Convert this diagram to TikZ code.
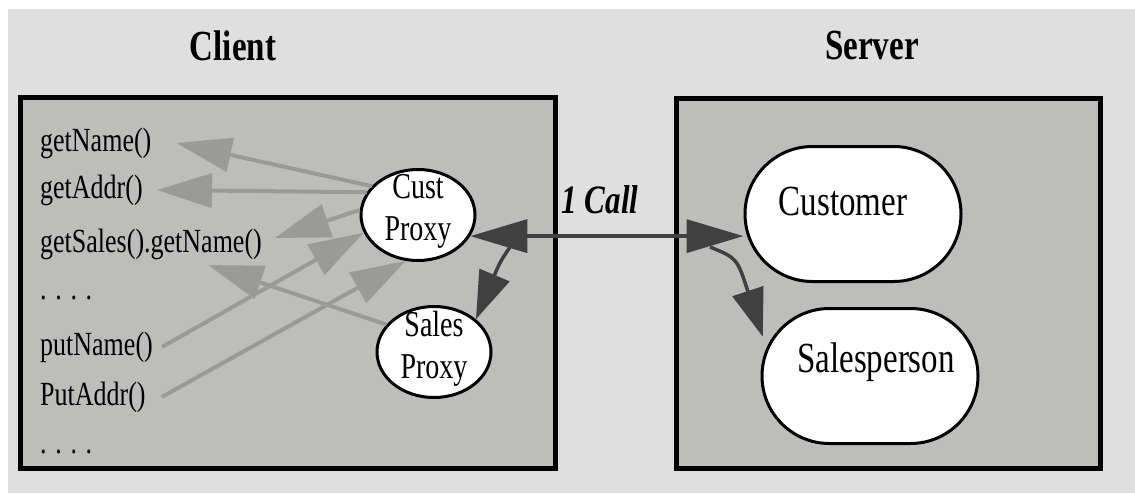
\documentclass[tikz,border=0pt]{standalone}
\usepackage{fontspec}
\setmainfont{Liberation Serif}
\usepackage{graphicx}
\usepackage{tikz}
\usetikzlibrary{arrows.meta}
\usetikzlibrary{shapes.geometric}
\usetikzlibrary{shapes.misc}
\definecolor{bggray}{HTML}{DFDFDF}
\definecolor{boxgray}{HTML}{BDBEBB}
\definecolor{arrowgray}{HTML}{9A9B98}
\definecolor{arrowdark}{HTML}{404040}
\newcommand{\tall}[1]{\scalebox{1}[1.3]{#1}}
\tikzset{panel/.style = {draw=black, line width=5pt, fill=boxgray}}
\tikzset{title/.style = {inner sep=0, font=\fontsize{33}{38}\selectfont\bfseries}}
\tikzset{method/.style = {anchor=west, inner sep=4pt, font=\fontsize{26}{30}\selectfont}}
\tikzset{proxy/.style = {draw, ellipse, line width=3pt, fill=white, inner sep=0,
    minimum width=114pt, minimum height=91pt}}
\tikzset{proxytext/.style = {inner sep=0, font=\fontsize{28}{32}\selectfont}}
\tikzset{object/.style = {draw, rounded rectangle, line width=3pt, fill=white, inner sep=0,
    minimum width=216pt, minimum height=135pt}}
\tikzset{objtext/.style = {inner sep=0, font=\fontsize{33}{38}\selectfont}}
\tikzset{callnote/.style = {inner sep=0, font=\fontsize{31}{36}\selectfont\bfseries\itshape}}
\tikzset{lightarrow/.style = {draw=arrowgray, line width=4pt, -{Triangle[length=55pt, width=34pt]}}}
\tikzset{darkarrow/.style = {draw=arrowdark, line width=3.5pt}}

\begin{document}
\begin{tikzpicture}[x=1pt, y=-1pt]
    \useasboundingbox (0, 0) rectangle (1135, 493);
    \fill [bggray] (8, 9) rectangle (1135, 493);
    \draw [panel] (20, 97) rectangle (555, 468);
    \draw [panel] (676, 98) rectangle (1100, 468);
    \node [title] (client) at (233, 46) {\tall{Client}};
    \node [title] (server) at (872, 46) {\tall{Server}};
    \node [method] (getname) at (36, 143) {\tall{getName()}};
    \node [method] (getaddr) at (36, 190) {\tall{getAddr()}};
    \node [method] (getsales) at (36, 244) {\tall{getSales().getName()}};
    \node [method] (dotsa) at (36, 298) {\tall{. . . .}};
    \node [method] (putname) at (36, 347) {\tall{putName()}};
    \node [method] (putaddr) at (36, 397) {\tall{PutAddr()}};
    \node [method] (dotsb) at (36, 452) {\tall{. . . .}};
    \node [proxy, label={[proxytext, yshift=4pt]center:\tall{\begin{tabular}{@{}c@{}}Cust\\Proxy\end{tabular}}}] (custproxy) at (418, 215) {};
    \node [proxy, label={[proxytext, yshift=3pt]center:\tall{\begin{tabular}{@{}c@{}}Sales\\Proxy\end{tabular}}}] (salesproxy) at (434, 352) {};
    \node [object, label={[objtext, xshift=-10pt, yshift=12pt]center:\tall{Customer}}] (customer) at (853, 214) {};
    \node [object, label={[objtext, xshift=6pt, yshift=14pt]center:\tall{Salesperson}}] (salesperson) at (870, 376) {};
    \node [callnote] (call) at (600, 200) {\tall{1 Call}};
    \coordinate (fork) at (510, 247);
    \coordinate (forkb) at (710, 247);
    \draw [lightarrow] (custproxy.148) -- ([xshift=21pt]getname.east);
    \draw [lightarrow] (custproxy.156) -- ([xshift=10pt]getaddr.east);
    \draw [lightarrow] (custproxy.175) -- ([shift={(9pt, 6pt)}]getsales.east);
    \draw [lightarrow] (salesproxy.150) -- ([shift={(-58pt, -21pt)}]getsales.east);
    \draw [lightarrow] ([xshift=5pt]putname.east) -- (custproxy.198);
    \draw [lightarrow] ([xshift=12pt]putaddr.east) -- (custproxy.255);
    \draw [darkarrow, {Triangle[length=57pt, width=33pt]}-{Triangle[length=57pt, width=33pt]}]
        (custproxy.-22) -- (custproxy.-22 -| customer.west);
    \draw [darkarrow, -{Triangle[length=48pt, width=32pt]}] (fork) .. controls (500, 262) .. (salesproxy.38);
    \draw [darkarrow, -{Triangle[length=48pt, width=32pt]}] (forkb) .. controls (737, 258) .. ([xshift=-10pt]salesperson.158);
\end{tikzpicture}
\end{document}
